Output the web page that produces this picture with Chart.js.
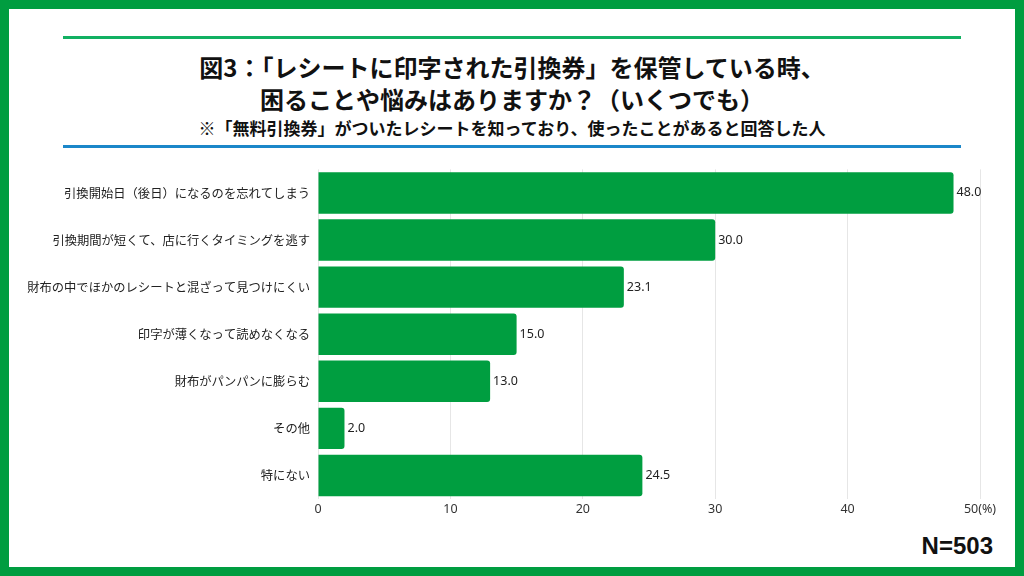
<!DOCTYPE html>
<html><head><meta charset="utf-8">
<script src="https://cdn.jsdelivr.net/npm/chart.js@4/dist/chart.umd.min.js"></script>
<style>
html,body{margin:0;padding:0;background:#fff;}
#frame{position:absolute;left:0;top:0;width:1024px;height:576px;box-sizing:border-box;border:9px solid #009d40;background:#fff;}
.line{position:absolute;left:63px;width:898px;height:3px;}
.t{position:absolute;left:0;width:1024px;text-align:center;font-family:"Noto Sans CJK JP";font-weight:bold;color:#111;white-space:nowrap;}
#wrap{position:absolute;left:0;top:154px;width:1024px;height:366px;}
#n{position:absolute;right:31px;top:531px;font-family:"Liberation Sans";font-weight:bold;font-size:24px;color:#111;line-height:30px;}
</style></head>
<body>
<div id="frame"></div>
<div class="line" style="top:36px;background:#12b062;"></div>
<div class="line" style="top:145px;background:#1b87c9;"></div>
<div class="t" style="top:51px;font-size:24px;line-height:32px;">図3：「レシートに印字された引換券」を保管している時、</div>
<div class="t" style="top:83px;font-size:24px;line-height:32px;">困ることや悩みはありますか？（いくつでも）</div>
<div class="t" style="top:116px;font-size:17px;line-height:24px;">※「無料引換券」がついたレシートを知っており、使ったことがあると回答した人</div>
<div id="wrap"><canvas id="c"></canvas></div>
<div id="n">N=503</div>
<script>
const categories = [
  "引換開始日（後日）になるのを忘れてしまう",
  "引換期間が短くて、店に行くタイミングを逃す",
  "財布の中でほかのレシートと混ざって見つけにくい",
  "印字が薄くなって読めなくなる",
  "財布がパンパンに膨らむ",
  "その他",
  "特にない"
];
const values = [48.0, 30.0, 23.1, 15.0, 13.0, 2.0, 24.5];
const tickValues = [0, 10, 20, 30, 40, 50];
const tickLabels = ["0", "10", "20", "30", "40", "50(%)"];

const valueLabels = {
  id: 'valueLabels',
  afterDatasetsDraw(chart) {
    const ctx = chart.ctx;
    const meta = chart.getDatasetMeta(0);
    ctx.save();
    ctx.font = '12.5px "Noto Sans"';
    ctx.fillStyle = '#222';
    ctx.textAlign = 'left';
    ctx.textBaseline = 'middle';
    meta.data.forEach((bar, i) => {
      ctx.fillText(values[i].toFixed(1), bar.x + 3, bar.y);
    });
    ctx.restore();
  }
};

new Chart(document.getElementById('c'), {
  type: 'bar',
  data: {
    labels: categories,
    datasets: [{
      data: values,
      backgroundColor: '#009e40',
      borderRadius: 3,
      borderSkipped: 'start',
      barPercentage: 0.88,
      categoryPercentage: 1.0
    }]
  },
  options: {
    indexAxis: 'y',
    responsive: true,
    maintainAspectRatio: false,
    animation: false,
    layout: { padding: { top: 5, right: 44, left: 0, bottom: 0 } },
    plugins: { legend: { display: false }, tooltip: { enabled: false } },
    scales: {
      x: {
        min: 0, max: 50,
        afterBuildTicks(scale) { scale.ticks = tickValues.map(v => ({ value: v })); },
        afterFit(scale) { scale.height = 21; },
        grid: { color: '#e6e6e6', drawTicks: false, lineWidth: 1 },
        border: { display: false },
        ticks: {
          padding: 3,
          color: '#333',
          font: { family: '"Noto Sans"', size: 12.5 },
          callback(v) { const i = tickValues.indexOf(v); return i >= 0 ? tickLabels[i] : ''; }
        }
      },
      y: {
        afterFit(scale) { scale.width = 318; },
        grid: { display: false, drawTicks: false },
        border: { display: false },
        ticks: {
          padding: 8,
          color: '#222',
          font: { family: '"Noto Sans CJK JP"', size: 12.3 }
        }
      }
    }
  },
  plugins: [valueLabels]
});
</script>
</body></html>
